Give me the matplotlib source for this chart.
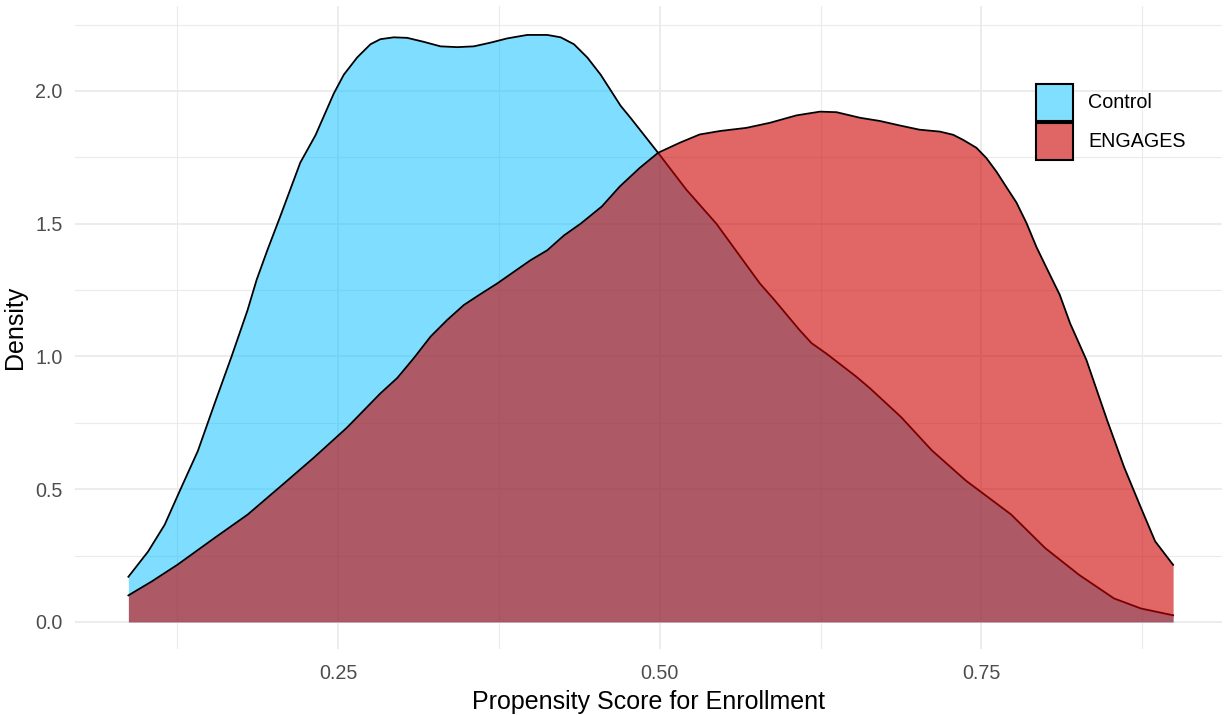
import matplotlib
matplotlib.use("Agg")
import matplotlib.pyplot as plt
from matplotlib.patches import Rectangle

# ---- data ----
groups = ["Control", "ENGAGES"]

control_x = [0.087, 0.1023, 0.1152, 0.128, 0.141, 0.1539, 0.1672, 0.1796, 0.1867, 0.195,
             0.205, 0.2206, 0.2324, 0.2401, 0.2466, 0.2544, 0.2648, 0.2752, 0.2829, 0.2933,
             0.3037, 0.3166, 0.3296, 0.3426, 0.3555, 0.3685, 0.3815, 0.397, 0.4126, 0.423,
             0.4333, 0.4437, 0.4541, 0.4618, 0.4696, 0.4774, 0.4987, 0.5207, 0.544, 0.5778,
             0.5887, 0.6089, 0.618, 0.6297, 0.6527, 0.6634, 0.6875, 0.7115, 0.738, 0.773,
             0.7996, 0.826, 0.853, 0.874, 0.899]
control_y = [0.17, 0.265, 0.366, 0.505, 0.644, 0.821, 1.0, 1.174, 1.289, 1.40,
             1.527, 1.73, 1.833, 1.918, 1.99, 2.061, 2.126, 2.176, 2.195, 2.202,
             2.20, 2.185, 2.168, 2.165, 2.168, 2.182, 2.198, 2.211, 2.211, 2.202,
             2.176, 2.126, 2.061, 2.003, 1.944, 1.898, 1.767, 1.628, 1.50, 1.275,
             1.215, 1.098, 1.05, 1.01, 0.924, 0.880, 0.772, 0.646, 0.532, 0.405,
             0.278, 0.177, 0.0886, 0.0506, 0.025]

engages_x = [0.087, 0.105, 0.125, 0.1539, 0.1796, 0.2054, 0.2312, 0.2569, 0.2827, 0.296,
             0.3089, 0.3219, 0.3348, 0.3478, 0.3607, 0.3737, 0.3867, 0.3996, 0.4126, 0.4256,
             0.4385, 0.455, 0.4689, 0.4844, 0.4987, 0.5156, 0.531, 0.5467, 0.5674, 0.5856,
             0.6063, 0.6245, 0.6374, 0.6556, 0.671, 0.6865, 0.702, 0.7176, 0.728, 0.7357,
             0.7461, 0.7539, 0.7617, 0.7694, 0.7772, 0.785, 0.7928, 0.8005, 0.8109, 0.819,
             0.8316, 0.8477, 0.861, 0.874, 0.885, 0.899]
engages_y = [0.10, 0.152, 0.215, 0.316, 0.404, 0.511, 0.619, 0.732, 0.86, 0.919,
             0.994, 1.075, 1.1375, 1.194, 1.235, 1.275, 1.319, 1.3625, 1.40, 1.456,
             1.50, 1.565, 1.64, 1.71, 1.767, 1.805, 1.836, 1.849, 1.861, 1.88,
             1.908, 1.922, 1.92, 1.899, 1.887, 1.87, 1.854, 1.847, 1.835, 1.816,
             1.786, 1.747, 1.696, 1.638, 1.58, 1.503, 1.412, 1.335, 1.232, 1.124,
             0.987, 0.76, 0.582, 0.43, 0.304, 0.215]

x_ticks = [0.25, 0.50, 0.75]
x_ticklabels = ["0.25", "0.50", "0.75"]
y_ticks = [0.0, 0.5, 1.0, 1.5, 2.0]
y_ticklabels = ["0.0", "0.5", "1.0", "1.5", "2.0"]

# ---- style ----
plt.rcParams['font.family'] = ['Liberation Sans', 'DejaVu Sans']
W, H = 1228, 715
fig = plt.figure(figsize=(W / 100, H / 100), dpi=100)
fig.patch.set_facecolor("white")

pl, pr, pt, pb = 75, 1222, 6, 649
ax = fig.add_axes([pl / W, (H - pb) / H, (pr - pl) / W, (pb - pt) / H])
ax.set_facecolor("white")

blue = (0 / 255, 191 / 255, 255 / 255)
red = (205 / 255, 0, 0)
a_blue, a_red = 0.5, 0.6

ax.fill_between(control_x, control_y, 0, color=blue, alpha=a_blue, lw=0, zorder=2)
ax.plot(control_x, control_y, color="black", lw=1.3, zorder=3, solid_joinstyle="round")
ax.fill_between(engages_x, engages_y, 0, color=red, alpha=a_red, lw=0, zorder=4)
ax.plot(engages_x, engages_y, color="black", lw=1.3, zorder=5, solid_joinstyle="round")

ax.set_xlim(0.0455, 0.937)
ax.set_ylim(-0.102, 2.32)

ax.set_xticks(x_ticks)
ax.set_xticklabels(x_ticklabels)
ax.set_yticks(y_ticks)
ax.set_yticklabels(y_ticklabels)
ax.set_xticks([0.125, 0.375, 0.625, 0.875], minor=True)
ax.set_yticks([0.25, 0.75, 1.25, 1.75, 2.25], minor=True)

ax.grid(True, which="major", color="#EBEBEB", lw=1.3, zorder=0)
ax.grid(True, which="minor", color="#EBEBEB", lw=0.8, zorder=0)
ax.set_axisbelow(True)
for s in ax.spines.values():
    s.set_visible(False)
ax.tick_params(which="both", length=0)
ax.tick_params(axis="x", pad=11, labelsize=14.2, labelcolor="#4D4D4D")
ax.tick_params(axis="y", pad=9, labelsize=14.2, labelcolor="#4D4D4D")

ax.set_xlabel("Propensity Score for Enrollment", fontsize=18, color="black", labelpad=5)
ax.set_ylabel("Density", fontsize=18, color="black", labelpad=6)

# ---- legend (drawn manually in figure pixel space) ----
def fx(px):
    return px / W

def fy(py):
    return (H - py) / H

key_cols = [(128 / 255, 223 / 255, 1.0), (224 / 255, 102 / 255, 102 / 255)]
key_tops = [84, 123]
for name, col, top in zip(groups, key_cols, key_tops):
    rect = Rectangle((fx(1036), fy(top + 37)), 37 / W, 37 / H, transform=fig.transFigure,
                     facecolor=col, edgecolor="black", lw=1.5, zorder=10)
    fig.patches.append(rect)
    fig.text(fx(1088), fy(top + 18.5), name, fontsize=14.2, color="black",
             va="center", ha="left")

fig.savefig("out.png", dpi=100, facecolor="white")
